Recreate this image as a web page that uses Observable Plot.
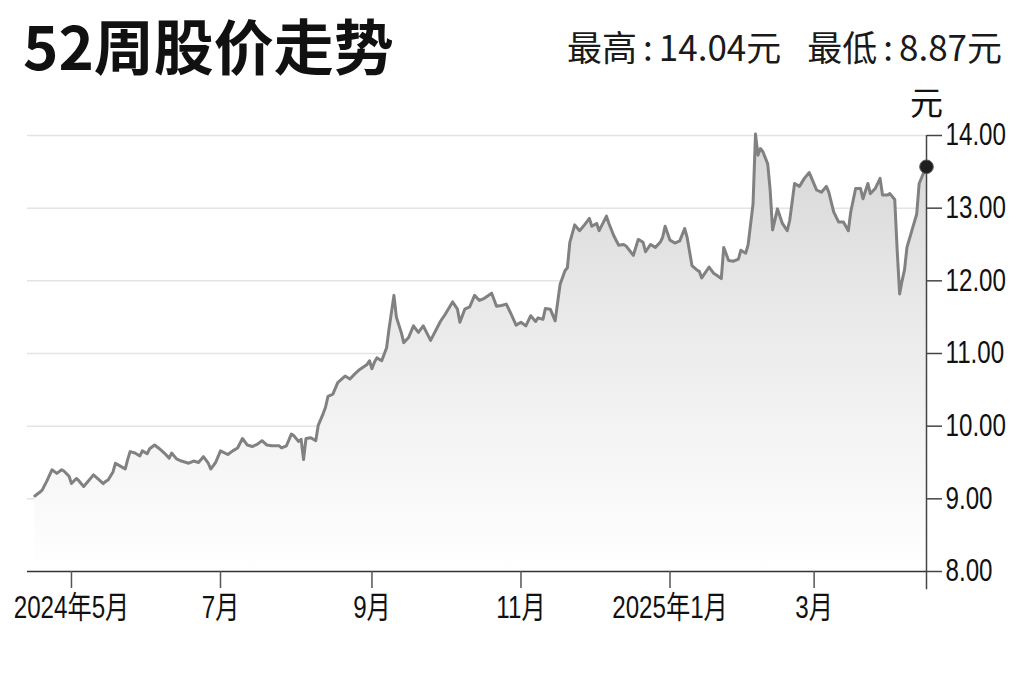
<!DOCTYPE html>
<html><head><meta charset="utf-8">
<script src="https://cdn.jsdelivr.net/npm/d3@7"></script>
<script src="https://cdn.jsdelivr.net/npm/@observablehq/plot@0.6"></script>
<style>
body{margin:0;background:#fff;}
#wrap{position:relative;width:1024px;height:682px;overflow:hidden;background:#fff;}
#head{height:100px;position:relative;}
#title{position:absolute;left:23px;top:10px;font-family:"Noto Sans CJK SC",sans-serif;font-weight:700;font-size:60px;line-height:68px;color:#111;white-space:nowrap;}
#hilo{position:absolute;right:22px;top:25px;font-family:"Noto Sans CJK SC",sans-serif;font-weight:400;font-size:35px;line-height:42px;color:#1a1a1a;white-space:nowrap;}
#hilo .c{margin:0 6px;}
#hilo .gap{display:inline-block;width:26px;}
#chart svg{display:block;}
</style></head>
<body><div id="wrap">
<div id="head"><div id="title">52周股价走势</div><div id="hilo">最高<span class="c">:</span>14.04元<span class="gap"></span>最低<span class="c">:</span>8.87元</div></div>
<div id="chart"></div>
</div>
<script>
// ---- data ----
const dates = [
"2024-04-16","2024-04-18","2024-04-19","2024-04-21","2024-04-23","2024-04-25","2024-04-27","2024-04-28","2024-04-30",
"2024-05-01","2024-05-03","2024-05-04","2024-05-06","2024-05-08","2024-05-10","2024-05-12","2024-05-14","2024-05-15","2024-05-16","2024-05-18","2024-05-19","2024-05-21","2024-05-23","2024-05-24","2024-05-25","2024-05-27","2024-05-29","2024-05-30",
"2024-06-01","2024-06-02","2024-06-04","2024-06-06","2024-06-08","2024-06-10","2024-06-11","2024-06-13","2024-06-15","2024-06-18","2024-06-20","2024-06-22","2024-06-24","2024-06-26","2024-06-27","2024-06-29",
"2024-07-01","2024-07-04","2024-07-06","2024-07-08","2024-07-10","2024-07-12","2024-07-14","2024-07-16","2024-07-18","2024-07-20","2024-07-22","2024-07-25","2024-07-26","2024-07-28","2024-07-30","2024-07-31",
"2024-08-02","2024-08-03","2024-08-04","2024-08-05","2024-08-07","2024-08-09","2024-08-10","2024-08-12","2024-08-13","2024-08-14","2024-08-16","2024-08-18","2024-08-19","2024-08-21","2024-08-23","2024-08-25","2024-08-27","2024-08-30","2024-08-31",
"2024-09-01","2024-09-02","2024-09-03","2024-09-05","2024-09-07","2024-09-08","2024-09-10","2024-09-11","2024-09-13","2024-09-14","2024-09-16","2024-09-18","2024-09-20","2024-09-22","2024-09-25","2024-09-27","2024-09-29",
"2024-10-01","2024-10-04","2024-10-06","2024-10-07","2024-10-09","2024-10-11","2024-10-13","2024-10-15","2024-10-17","2024-10-20","2024-10-22","2024-10-24","2024-10-26","2024-10-28","2024-10-30",
"2024-11-01","2024-11-03","2024-11-05","2024-11-07","2024-11-08","2024-11-10","2024-11-11","2024-11-13","2024-11-15","2024-11-17","2024-11-19","2024-11-20","2024-11-21","2024-11-23","2024-11-25","2024-11-27","2024-11-29","2024-11-30",
"2024-12-02","2024-12-03","2024-12-06","2024-12-07","2024-12-09","2024-12-11","2024-12-13","2024-12-14","2024-12-17","2024-12-19","2024-12-21","2024-12-22","2024-12-24","2024-12-26","2024-12-28","2024-12-29","2024-12-30",
"2025-01-01","2025-01-03","2025-01-05","2025-01-07","2025-01-08","2025-01-10","2025-01-12","2025-01-13","2025-01-14","2025-01-17","2025-01-19","2025-01-20","2025-01-22","2025-01-23","2025-01-25","2025-01-27","2025-01-29","2025-01-30",
"2025-02-01","2025-02-02","2025-02-04","2025-02-05","2025-02-06","2025-02-07","2025-02-08","2025-02-10","2025-02-11","2025-02-12","2025-02-14","2025-02-16","2025-02-18","2025-02-19","2025-02-21","2025-02-23","2025-02-25","2025-02-27","2025-02-28",
"2025-03-02","2025-03-04","2025-03-06","2025-03-07","2025-03-09","2025-03-11","2025-03-13","2025-03-15","2025-03-16","2025-03-18","2025-03-20","2025-03-21","2025-03-23","2025-03-24","2025-03-26","2025-03-28","2025-03-29","2025-03-31",
"2025-04-01","2025-04-03","2025-04-04","2025-04-05","2025-04-06","2025-04-07","2025-04-08","2025-04-10","2025-04-12","2025-04-13","2025-04-15","2025-04-16"
];
const prices = [
9.04,9.09,9.12,9.25,9.40,9.35,9.40,9.38,9.31,
9.21,9.28,9.25,9.17,9.25,9.33,9.27,9.21,9.24,9.26,9.37,9.49,9.45,9.41,9.54,9.65,9.63,9.59,9.66,
9.62,9.69,9.74,9.69,9.63,9.56,9.63,9.55,9.52,9.49,9.52,9.50,9.58,9.49,9.41,9.50,
9.66,9.61,9.66,9.70,9.83,9.74,9.72,9.75,9.80,9.74,9.73,9.73,9.70,9.73,9.89,9.87,
9.79,9.82,9.54,9.83,9.84,9.80,10.01,10.17,10.26,10.41,10.44,10.60,10.63,10.69,10.65,10.72,10.78,10.85,10.90,
10.79,10.88,10.94,10.90,11.08,11.34,11.80,11.50,11.29,11.15,11.22,11.38,11.29,11.38,11.18,11.31,11.44,
11.54,11.71,11.61,11.43,11.61,11.64,11.80,11.73,11.76,11.83,11.65,11.66,11.68,11.54,11.39,
11.43,11.38,11.52,11.44,11.49,11.47,11.62,11.61,11.45,11.95,12.14,12.18,12.53,12.77,12.69,12.77,12.86,12.75,
12.79,12.69,12.89,12.79,12.62,12.49,12.50,12.48,12.35,12.57,12.53,12.40,12.50,12.46,12.53,12.60,12.75,
12.56,12.52,12.55,12.72,12.60,12.21,12.15,12.13,12.04,12.19,12.10,12.08,12.03,12.46,12.28,12.27,12.30,12.42,
12.38,12.50,13.06,14.02,13.73,13.82,13.78,13.61,13.25,12.70,12.99,12.79,12.69,12.83,13.34,13.30,13.41,13.49,13.41,
13.25,13.22,13.30,13.22,12.95,12.81,12.81,12.69,12.95,13.27,13.27,13.13,13.34,13.20,13.27,13.41,13.18,13.18,
13.20,13.12,12.42,11.82,12.00,12.15,12.46,12.69,12.92,13.34,13.50,13.57
];
const xDomain = ["2024-04-13","2025-04-16"];
const xTickDates = ["2024-05-01","2024-07-01","2024-09-01","2024-11-01","2025-01-01","2025-03-01"];
const xTickLabels = ["2024年5月","7月","9月","11月","2025年1月","3月"];
const yTicks = [8,9,10,11,12,13,14];
const gridValues = [9,10,11,12,13,14];
const unitLabel = "元";

// ---- build ----
const parse = s => new Date(s + "T00:00:00Z");
const data = dates.map((d, i) => ({date: parse(d), value: prices[i]}));
const last = data[data.length - 1];
const endDate = parse(xDomain[1]);
const labelMap = new Map(xTickDates.map((d, i) => [+parse(d), xTickLabels[i]]));
const tickFont = '"Liberation Sans",Arial,"Noto Sans CJK SC",sans-serif';

const gradientDefs = () => {
  const g = d3.create("svg:g");
  const lg = g.append("defs").append("linearGradient")
    .attr("id", "areaGrad").attr("x1", 0).attr("y1", 0).attr("x2", 0).attr("y2", 1);
  lg.append("stop").attr("offset", "0%").attr("stop-color", "#d6d6d6");
  lg.append("stop").attr("offset", "45%").attr("stop-color", "#ebebeb");
  lg.append("stop").attr("offset", "100%").attr("stop-color", "#ffffff");
  return g.node();
};

const chart = Plot.plot({
  width: 1024,
  height: 582,
  marginLeft: 27,
  marginRight: 98,
  marginTop: 35,
  marginBottom: 111,
  x: {type: "utc", domain: xDomain.map(parse), label: null},
  y: {domain: [8, 14], label: null},
  style: {fontFamily: tickFont, fontSize: "31px", color: "#111", background: "transparent", overflow: "visible"},
  marks: [
    gradientDefs,
    Plot.ruleY(gridValues, {stroke: "#e4e4e4", strokeWidth: 1.5}),
    Plot.areaY(data, {x: "date", y1: 8, y2: "value", fill: "url(#areaGrad)"}),
    Plot.lineY(data, {x: "date", y: "value", stroke: "#818181", strokeWidth: 3, strokeLinejoin: "round"}),
    Plot.ruleY([8], {stroke: "#333", strokeWidth: 1.5}),
    Plot.ruleX([endDate], {y1: 7.75, y2: 14, stroke: "#444", strokeWidth: 1.5}),
    Plot.axisX({ticks: xTickDates.map(parse), tickFormat: d => labelMap.get(+d), label: null, tickSize: 17, tickPadding: 7, stroke: "#555", strokeWidth: 1.5, fontSize: 31, fontFamily: tickFont, fill: "#111"}),
    Plot.axisY({anchor: "right", ticks: yTicks, tickFormat: d => d.toFixed(2), label: null, tickSize: 15, tickPadding: 4, stroke: "#444", strokeWidth: 1.5, fontSize: 31, fontFamily: tickFont, fill: "#111"}),
    Plot.dot([last], {x: "date", y: "value", r: 6.8, fill: "#1e1e1e", stroke: "#555", strokeWidth: 1}),
    Plot.text([unitLabel], {frameAnchor: "top-right", text: d => d, dy: -44, textAnchor: "middle", fontSize: 33, fontFamily: '"Noto Sans CJK SC",sans-serif', fill: "#111"})
  ]
});
document.getElementById("chart").appendChild(chart);

// condense the tick labels horizontally, like the narrow face of the original
d3.select(chart).selectAll('g[aria-label="x-axis tick label"] text, g[aria-label="y-axis tick label"] text').each(function() {
  const ax = +(this.getAttribute("x") || 0);
  const t = this.getAttribute("transform") || "";
  this.setAttribute("transform", `${t} translate(${ax},0) scale(0.78,1) translate(${-ax},0)`);
});
</script>
</body></html>
